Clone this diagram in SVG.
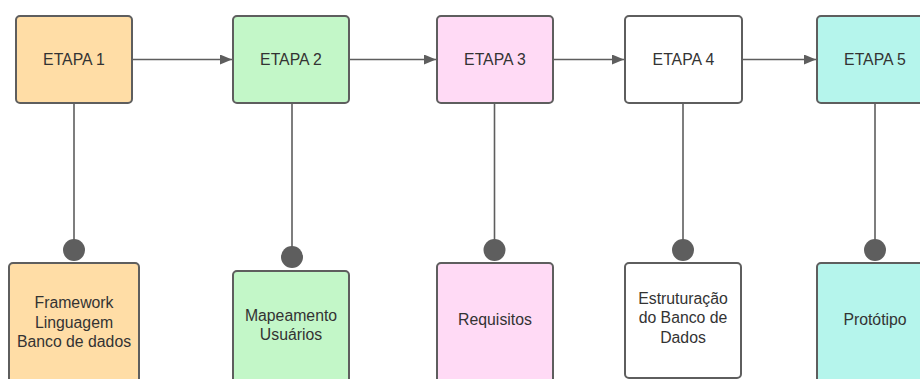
<svg xmlns="http://www.w3.org/2000/svg" width="920" height="379" viewBox="0 0 920 379">
<defs>
<style>
.box{stroke:#5e5e5e;stroke-width:2}
.t{font-family:"Liberation Sans",Arial,sans-serif;font-size:15.8px;fill:#333;text-anchor:middle}
.c{stroke:#5e5e5e;stroke-width:1.6;fill:none}
.dot{fill:#5e5e5e}
</style>
<marker id="ar" viewBox="0 0 12 10" refX="12" refY="5" markerWidth="12" markerHeight="10" markerUnits="userSpaceOnUse" orient="auto">
<path d="M0,0 L12,5 L0,10 Z" fill="#5e5e5e"/>
</marker>
</defs>
<rect width="920" height="379" fill="#fff"/>
<g id="connectors">
<line class="c" x1="132" y1="59.5" x2="232" y2="59.5" marker-end="url(#ar)"/>
<line class="c" x1="349" y1="59.5" x2="436" y2="59.5" marker-end="url(#ar)"/>
<line class="c" x1="553" y1="59.5" x2="624" y2="59.5" marker-end="url(#ar)"/>
<line class="c" x1="742" y1="59.5" x2="816" y2="59.5" marker-end="url(#ar)"/>
<line class="c" x1="74" y1="103" x2="74" y2="250"/>
<circle class="dot" cx="74" cy="250" r="11"/>
<line class="c" x1="292" y1="103" x2="292" y2="257"/>
<circle class="dot" cx="292" cy="257" r="11"/>
<line class="c" x1="494.5" y1="103" x2="494.5" y2="250"/>
<circle class="dot" cx="494.5" cy="250" r="11"/>
<line class="c" x1="683" y1="103" x2="683" y2="250"/>
<circle class="dot" cx="683" cy="250" r="11"/>
<line class="c" x1="875" y1="103" x2="875" y2="250"/>
<circle class="dot" cx="875" cy="250" r="11"/>
</g>
<g id="etapa1"><rect class="box" x="16" y="16" width="116" height="87" rx="4" fill="#ffdda6"/><text class="t" x="74" y="65">ETAPA 1</text></g>
<g id="etapa2"><rect class="box" x="233" y="16" width="116" height="87" rx="4" fill="#c3f7c8"/><text class="t" x="291" y="65">ETAPA 2</text></g>
<g id="etapa3"><rect class="box" x="437" y="16" width="116" height="87" rx="4" fill="#ffdaf5"/><text class="t" x="495" y="65">ETAPA 3</text></g>
<g id="etapa4"><rect class="box" x="625" y="16" width="117" height="87" rx="4" fill="#ffffff"/><text class="t" x="683.5" y="65">ETAPA 4</text></g>
<g id="etapa5"><rect class="box" x="817" y="16" width="116" height="87" rx="4" fill="#b5f5ec"/><text class="t" x="875" y="65">ETAPA 5</text></g>
<g id="det1"><rect class="box" x="9" y="263" width="130" height="124" rx="4" fill="#ffdda6"/><text class="t" x="74" y="308">Framework</text><text class="t" x="74" y="327.5">Linguagem</text><text class="t" x="74" y="347">Banco de dados</text></g>
<g id="det2"><rect class="box" x="233" y="271" width="116" height="116" rx="4" fill="#c3f7c8"/><text class="t" x="291" y="320.5">Mapeamento</text><text class="t" x="291" y="340">Usuários</text></g>
<g id="det3"><rect class="box" x="437" y="263" width="116" height="124" rx="4" fill="#ffdaf5"/><text class="t" x="495" y="324.5">Requisitos</text></g>
<g id="det4"><rect class="box" x="625" y="263" width="116" height="115" rx="4" fill="#ffffff"/><text class="t" x="683" y="303.5">Estruturação</text><text class="t" x="683" y="323">do Banco de</text><text class="t" x="683" y="342.5">Dados</text></g>
<g id="det5"><rect class="box" x="817" y="263" width="116" height="124" rx="4" fill="#b5f5ec"/><text class="t" x="875" y="324.5">Protótipo</text></g>
</svg>
